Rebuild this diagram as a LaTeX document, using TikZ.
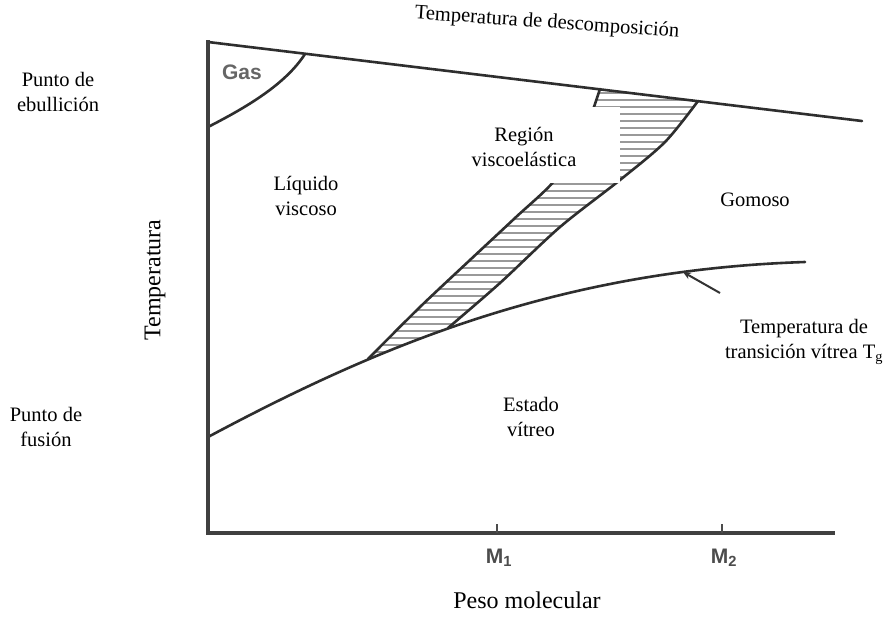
\documentclass[tikz,border=0pt]{standalone}
\usepackage{fontspec}
\setmainfont{Liberation Serif}
\newfontfamily\labsans{Liberation Sans}
\usetikzlibrary{arrows.meta}
\begin{document}
\begin{tikzpicture}[x=1pt,y=-1pt,
  curve/.style={line width=2.6pt,color=black!82,line cap=round},
  axisline/.style={line width=3.2pt,color=black!75},
  hatch/.style={line width=2.4pt,color=black!40},
  lab/.style={font=\fontsize{20.5}{25}\selectfont,align=center,inner sep=0pt},
  big/.style={font=\fontsize{24}{28}\selectfont,inner sep=0pt},
  mlab/.style={font=\labsans\bfseries\fontsize{21}{24}\selectfont,text=black!70,inner sep=0pt}]
\useasboundingbox[fill=white] (0,0) rectangle (888,627);

% hatched viscoelastic region
\begin{scope}
\clip plot[smooth] coordinates {(368,359) (420,307) (470,260) (515,218) (555,180) (583,135) (600,89)}
  -- (698,101)
  -- plot[smooth] coordinates {(698,101) (665,142) (620,180) (560,227) (500,283) (448,328)}
  -- cycle;
\foreach \yy in {93,100,...,365} \draw[hatch] (350,\yy) -- (720,\yy);
\end{scope}

% curves
\draw[curve] (208,437) .. controls (380,345) and (560,270) .. (805,262);
\draw[curve] plot[smooth] coordinates {(368,359) (420,307) (470,260) (515,218) (555,180) (583,135) (600,89)};
\draw[curve] plot[smooth] coordinates {(448,328) (500,283) (560,227) (620,180) (665,142) (698,101)};
\draw[curve] (208,127) .. controls (245,108) and (285,85) .. (305,54);
\draw[curve] (208,42) -- (862,121);

% axes
\coordinate (origin) at (208,533);
\coordinate (ytop) at (208,40);
\coordinate (xend) at (835,533);
\draw[axisline] (ytop) -- (origin) -- (xend);
\coordinate (m1) at (497,533);
\coordinate (m2) at (722,533);
\draw[line width=1.6pt,black!70] (m1) -- ++(0,-9);
\draw[line width=1.6pt,black!70] (m2) -- ++(0,-9);

% arrow to Tg curve
\coordinate (arS) at (720,293);
\coordinate (arE) at (683,272);
\draw[line width=2pt,black!80,-{Stealth[length=8pt,width=7pt]}] (arS) -- (arE);

% white box with label
\node[fill=white,minimum width=176pt,minimum height=76pt,inner sep=0pt] (regbox) at (532,145) {};
\node[lab] (region) at (524,147) {Región\\viscoelástica};

% labels
\node[lab,rotate=-4] (tdesc) at (547,23) {Temperatura de descomposición};
\node[lab] (pebul) at (58,92) {Punto de\\ebullición};
\node[lab] (pfus) at (46,427) {Punto de\\fusión};
\node[lab] (liq) at (306,196) {Líquido\\viscoso};
\node[lab] (gom) at (755,200) {Gomoso};
\node[lab] (ttg) at (804,342) {Temperatura de\\transición vítrea T\textsubscript{g}};
\node[lab] (estado) at (531,417) {Estado\\vítreo};
\node[big] (peso) at (527,600) {Peso molecular};
\node[big,rotate=90] (temp) at (155,280) {Temperatura};
\node[mlab] (M1) at (499,558) {M\textsubscript{1}};
\node[mlab] (M2) at (724,558) {M\textsubscript{2}};
\node[mlab,text=black!60] (gas) at (242,72) {Gas};
\end{tikzpicture}
\end{document}
